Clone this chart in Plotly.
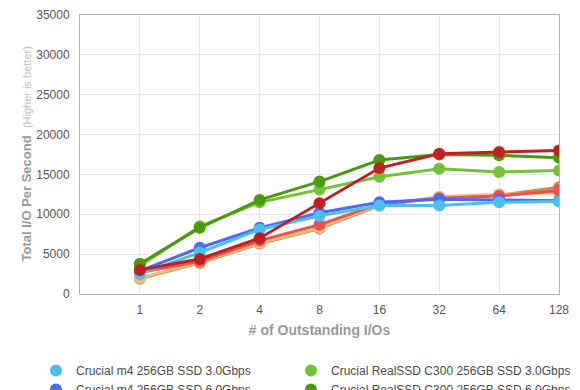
import plotly.graph_objects as go

categories = ["1", "2", "4", "8", "16", "32", "64", "128"]

m4_3g = [2500, 5200, 8100, 9800, 11100, 11100, 11500, 11600]
m4_6g = [2900, 5800, 8300, 10200, 11500, 11900, 11800, 11700]
c300_3g = [3500, 8500, 11500, 13100, 14700, 15700, 15300, 15500]
c300_6g = [3800, 8300, 11800, 14100, 16800, 17500, 17400, 17100]
s5_6g = [3000, 4400, 7000, 11400, 15800, 17600, 17800, 18000]
s5_3g = [2700, 4100, 6700, 8700, 11300, 12000, 12300, 13000]
s6_3g = [2000, 4000, 6400, 8300, 11200, 12200, 12500, 12700]
s6_6g = [1900, 3900, 6300, 8200, 11100, 12100, 12400, 13400]

series = [
    # name, values, color, legend
    ("Crucial m4 256GB SSD 3.0Gbps", m4_3g, "#4dbfee", "legend"),
    ("Crucial m4 256GB SSD 6.0Gbps", m4_6g, "#4a6cf0", "legend"),
    ("OCZ Vertex 3 240GB SSD 3.0Gbps", s5_3g, "#ee5050", "legend"),
    ("Intel SSD 510 250GB 3.0Gbps", s6_3g, "#edbd78", "legend"),
    ("Crucial RealSSD C300 256GB SSD 3.0Gbps", c300_3g, "#74c23a", "legend2"),
    ("Crucial RealSSD C300 256GB SSD 6.0Gbps", c300_6g, "#4a9a0e", "legend2"),
    ("OCZ Vertex 3 240GB SSD 6.0Gbps", s5_6g, "#c0201f", "legend2"),
    ("Intel SSD 510 250GB 6.0Gbps", s6_6g, "#c09050", "legend2"),
]

draw_order = [7, 3, 2, 1, 0, 4, 5, 6]

fig = go.Figure()
for i in draw_order:
    name, vals, col, leg = series[i]
    fig.add_trace(go.Scatter(
        x=categories, y=vals, mode="lines+markers", name=name,
        line=dict(color=col, width=3),
        marker=dict(color=col, size=12),
        showlegend=False, hoverinfo="skip",
    ))
for name, vals, col, leg in series:
    fig.add_trace(go.Scatter(
        x=[None], y=[None], mode="markers", name=name,
        marker=dict(color=col, size=12), legend=leg,
    ))

W, H = 572, 450
font_family = "Liberation Sans, Arial, Helvetica, sans-serif"
legend_common = dict(
    orientation="v", xref="container", yref="container",
    yanchor="top", y=1 - 348 / H, xanchor="left",
    font=dict(size=12, color="#4a4a4a"), tracegroupgap=0,
    itemclick=False, bgcolor="rgba(0,0,0,0)",
)
fig.update_layout(
    width=W, height=H, autosize=False,
    margin=dict(l=72, r=21, t=7, b=164, autoexpand=False),
    plot_bgcolor="white", paper_bgcolor="white",
    font=dict(family=font_family, size=12, color="#555555"),
    xaxis=dict(
        type="category", range=[-1, 7], automargin=False,
        showgrid=True, gridcolor="#e6e6e6", gridwidth=1,
        showline=True, linecolor="#b5b5b5", linewidth=1, mirror=True,
        ticks="", tickfont=dict(size=12, color="#555555"),
        ticklabelstandoff=5,
        title=dict(text="<b># of Outstanding I/Os</b>", font=dict(size=14, color="#9a9a9a"), standoff=8),
        zeroline=False,
    ),
    yaxis=dict(
        range=[0, 35000], dtick=5000, tickformat="d", automargin=False,
        showgrid=True, gridcolor="#e6e6e6", gridwidth=1,
        showline=True, linecolor="#b5b5b5", linewidth=1, mirror=True,
        ticks="", tickfont=dict(size=12, color="#555555"),
        ticklabelstandoff=7,
        zeroline=False,
    ),
    legend=dict(x=28 / W, **legend_common),
    legend2=dict(x=283 / W, **legend_common),
    annotations=[dict(
        text="<b>Total I/O Per Second</b>  <span style='font-size:11px;color:#c0c0c0'>(Higher is better)</span>",
        font=dict(size=13, color="#9a9a9a"),
        textangle=-90, xref="paper", yref="paper",
        x=-0.1127, y=0.5, xanchor="center", yanchor="middle",
        showarrow=False,
    )],
)

fig.write_html("out.html")
